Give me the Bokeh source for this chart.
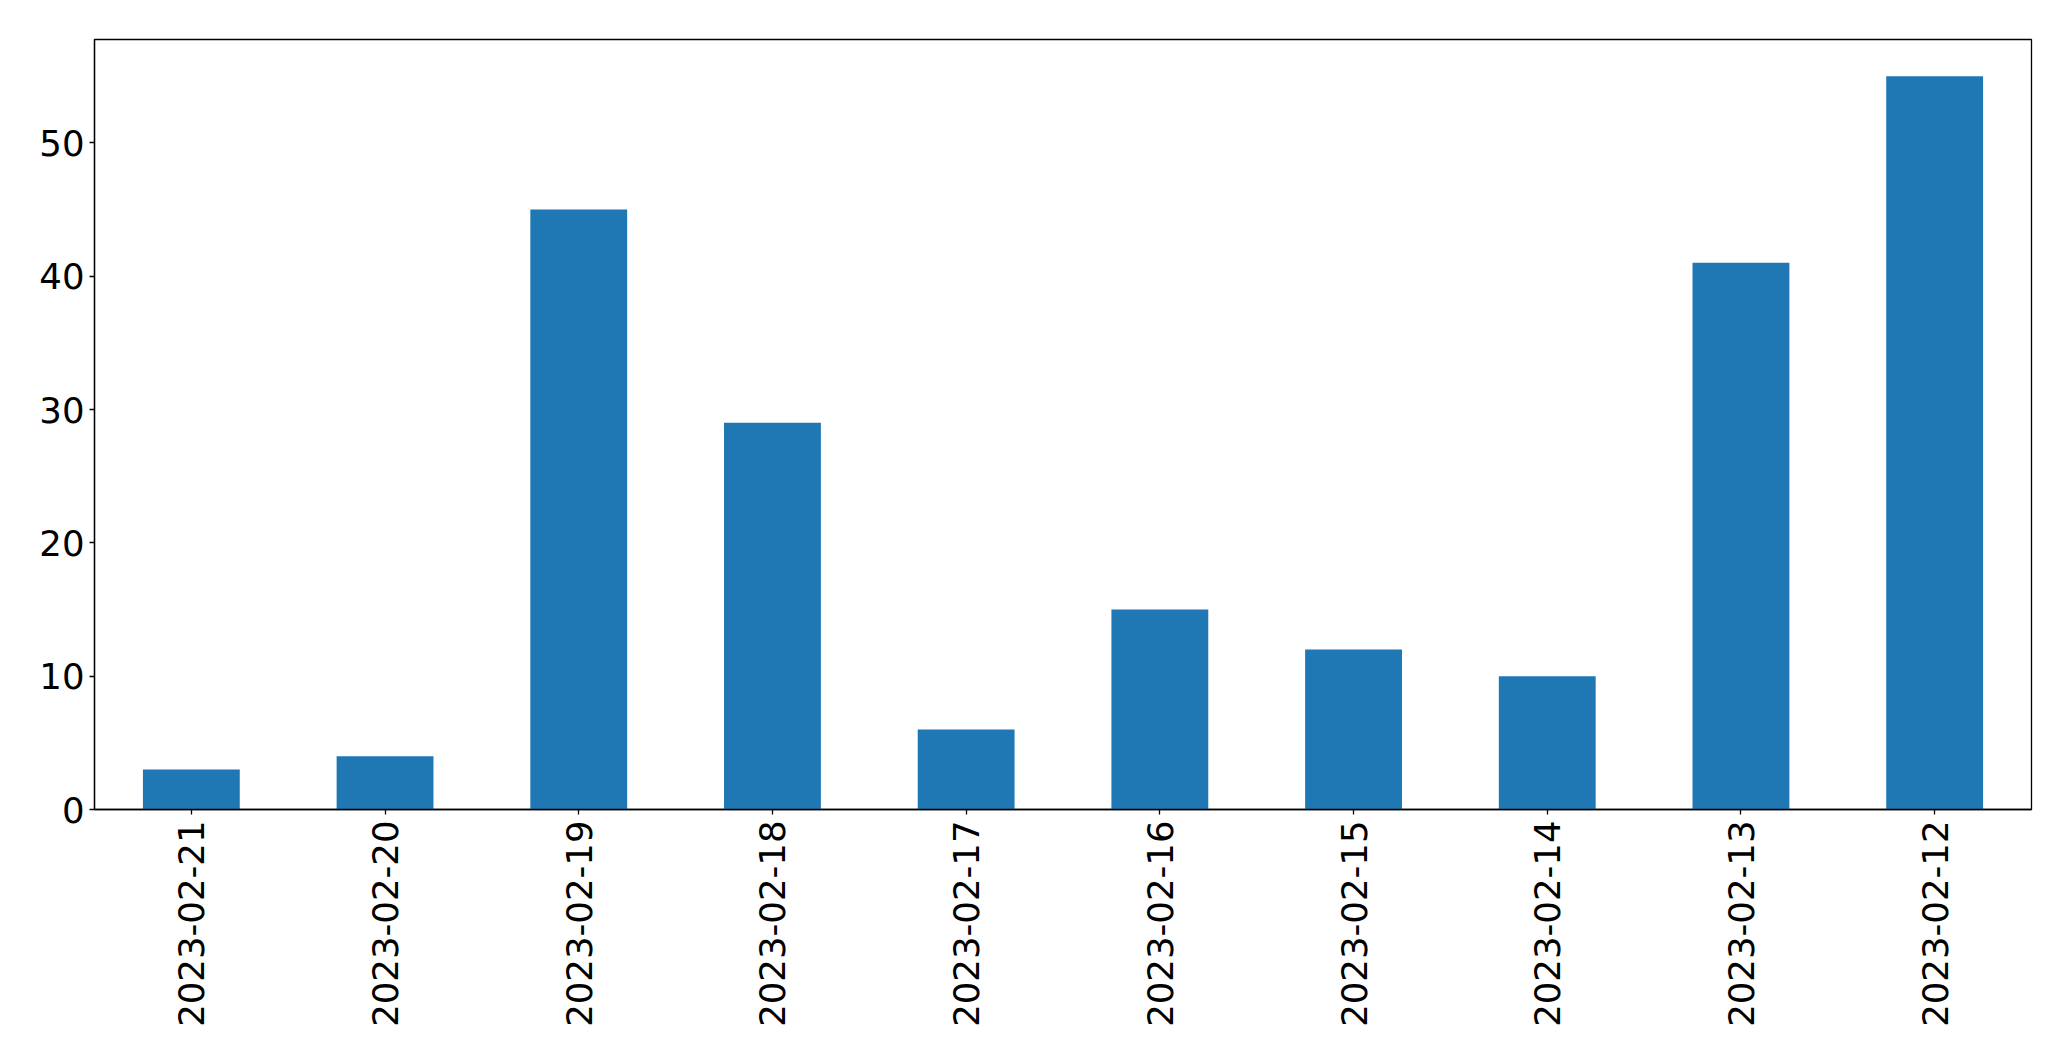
from bokeh.plotting import figure
from bokeh.models import FactorRange, Range1d, FixedTicker
from bokeh.embed import file_html
from bokeh.resources import INLINE
from math import pi

dates = ["2023-02-21", "2023-02-20", "2023-02-19", "2023-02-18", "2023-02-17",
         "2023-02-16", "2023-02-15", "2023-02-14", "2023-02-13", "2023-02-12"]
counts = [3, 4, 45, 29, 6, 15, 12, 10, 41, 55]
y_ticks = [0, 10, 20, 30, 40, 50]

p = figure(x_range=FactorRange(*dates), y_range=Range1d(0, max(counts) * 1.05),
           width=2055, height=1045, output_backend="svg", toolbar_location=None,
           min_border_left=94, min_border_top=39, min_border_right=24, min_border_bottom=236)

p.vbar(x=dates, top=counts, width=0.5, fill_color="#1f77b4", line_color=None)

p.xgrid.visible = False
p.ygrid.visible = False
p.outline_line_color = "black"
p.outline_line_width = 1.3
p.background_fill_color = "white"
p.border_fill_color = "white"

p.yaxis.ticker = FixedTicker(ticks=y_ticks)
p.yaxis.minor_tick_line_color = None

for ax in (p.xaxis[0], p.yaxis[0]):
    ax.axis_line_color = "black"
    ax.axis_line_width = 1.3
    ax.major_tick_line_color = "black"
    ax.major_tick_line_width = 1.3
    ax.major_tick_out = 5
    ax.major_tick_in = 0
    ax.major_label_text_font = "DejaVu Sans"
    ax.major_label_text_font_size = "35.5px"
    ax.major_label_text_color = "black"

p.yaxis.major_label_standoff = 5
p.xaxis.major_label_standoff = 6
p.xaxis.major_label_orientation = pi / 2

open("out.html", "w").write(file_html(p, INLINE))
